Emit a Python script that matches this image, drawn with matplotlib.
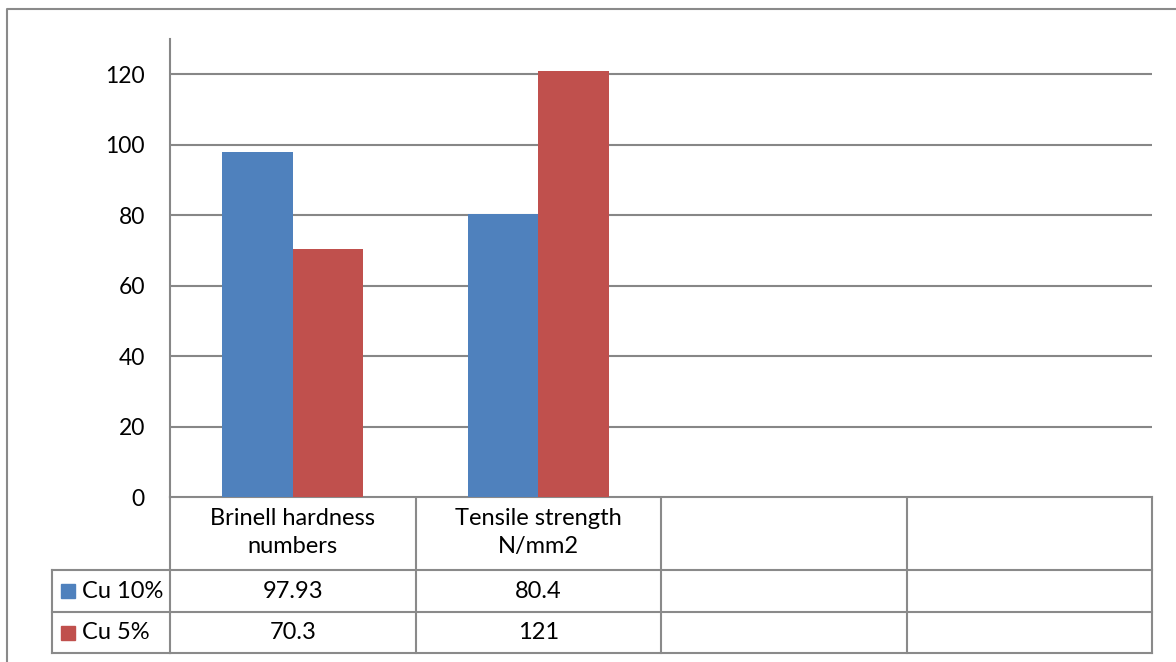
import matplotlib.pyplot as plt
import matplotlib.transforms as mtransforms
from matplotlib.patches import Rectangle

categories = ["Brinell hardness\nnumbers", "Tensile strength\nN/mm2", "", ""]
series_names = ["Cu 10%", "Cu 5%"]
cu10 = [97.93, 80.4]
cu5 = [70.3, 121]
cell_text = [["97.93", "80.4", "", ""], ["70.3", "121", "", ""]]
yticks = [0, 20, 40, 60, 80, 100, 120]

colors = ["#4F81BD", "#C0504D"]
grid_col = "#878787"

plt.rcParams['font.family'] = ['Lato', 'DejaVu Sans']

W, H = 1176, 662
fig = plt.figure(figsize=(W / 100, H / 100), dpi=100)

# overlay axes in pixel coordinates for the border and the data table
ov = fig.add_axes([0, 0, 1, 1])
ov.set_xlim(0, W)
ov.set_ylim(H, 0)
ov.axis("off")

# plot area
left, right, top, bottom = 170, 1152, 39, 497
ax = fig.add_axes([left / W, (H - bottom) / H, (right - left) / W, (bottom - top) / H])
ax.set_xlim(-0.5, 3.5)
ax.set_ylim(0, 130)

bw = 0.2875
x = range(len(cu10))
ax.bar([i - bw / 2 for i in x], cu10, width=bw, color=colors[0], zorder=3)
ax.bar([i + bw / 2 for i in x], cu5, width=bw, color=colors[1], zorder=3)

ax.set_yticks(yticks)
ax.set_yticklabels([str(t) for t in yticks], fontsize=16.5)
ax.tick_params(axis="y", length=0, pad=18)
ax.set_xticks([])
ax.yaxis.grid(True, color=grid_col, linewidth=1.5)
for s in ["top", "right", "bottom"]:
    ax.spines[s].set_visible(False)
ax.spines["left"].set_color(grid_col)
ax.spines["left"].set_linewidth(1.5)

# outer chart border (left and top only are within the canvas)
ov.plot([7, 7, W + 5], [H + 5, 9, 9], color="#8a8a8a", lw=1.5)

# data table
tr = mtransforms.blended_transform_factory(ax.transData, ov.transData)
row_y = [497, 570, 612, 653]
col_x = [-0.5, 0.5, 1.5, 2.5, 3.5]
lc = "#8a8a8a"
fs = 17
for cx in col_x:
    ov.plot([cx, cx], [row_y[0], row_y[-1]], color=lc, lw=1.5, transform=tr)
for ry in row_y:
    ov.plot([-0.5, 3.5], [ry, ry], color=lc, lw=1.5, transform=tr)
# legend column
ov.plot([52, 52], [row_y[1], row_y[-1]], color=lc, lw=1.5)
for ry in row_y[1:]:
    ov.plot([52, left], [ry, ry], color=lc, lw=1.5)

for i, cat in enumerate(categories):
    ov.text(i, (row_y[0] + row_y[1]) / 2 - 1, cat, transform=tr, ha="center", va="center",
            fontsize=fs, linespacing=1.42)

for r, name in enumerate(series_names):
    yc = (row_y[r + 1] + row_y[r + 2]) / 2
    ov.add_patch(Rectangle((61, yc - 7), 14, 14, color=colors[r]))
    ov.text(82, yc, name, ha="left", va="center", fontsize=fs)
    for i, t in enumerate(cell_text[r]):
        ov.text(i, yc, t, transform=tr, ha="center", va="center", fontsize=fs)

fig.savefig("out.png", dpi=100)
